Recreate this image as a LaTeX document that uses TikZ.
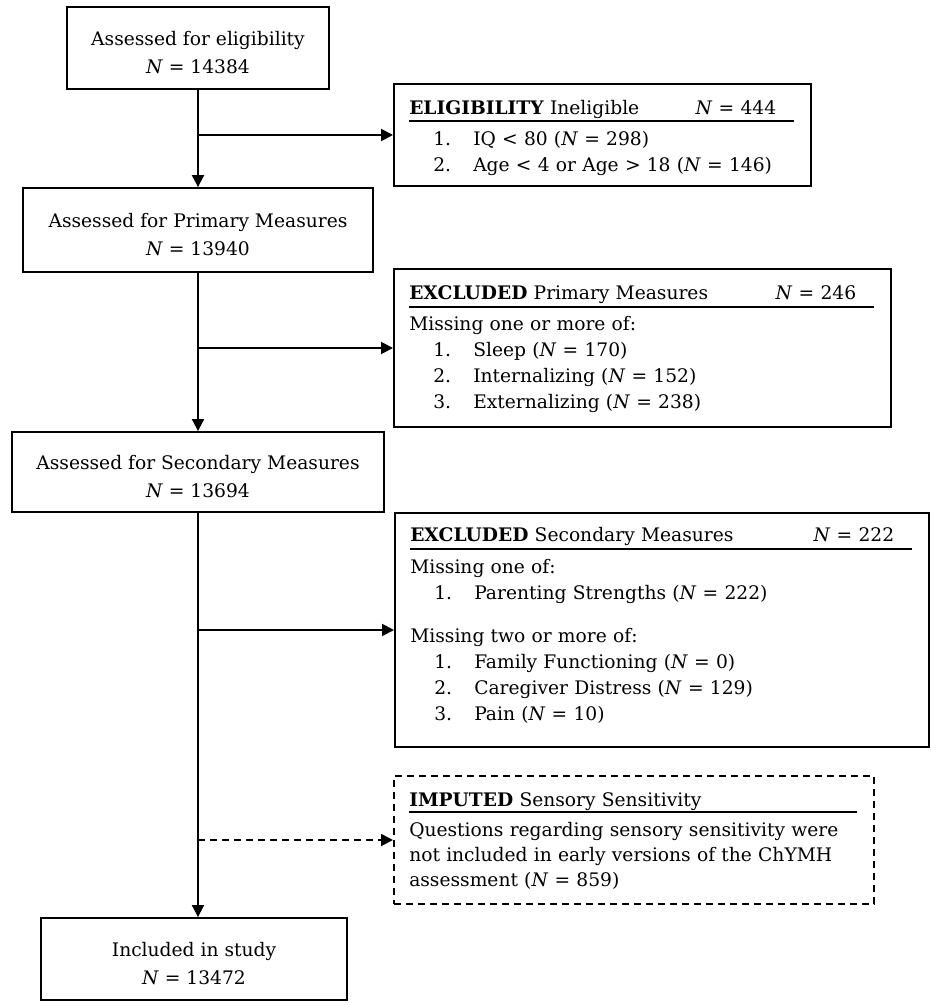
\documentclass[tikz,border=0pt]{standalone}
\usepackage{fontspec}
\setmainfont{DejaVu Serif}
\usetikzlibrary{arrows.meta}

\newcommand{\itm}[2]{\hspace*{18pt}\makebox[30pt][l]{#1}#2}
\newcommand{\nval}[1]{\textit{N} = #1}
\newcommand{\topgap}{\rule{0pt}{18pt}}

\tikzset{
  stagebox/.style={draw, line width=1.4pt, align=center, inner sep=2pt},
  sidebox/.style={draw, line width=1.4pt, anchor=west},
  sidetext/.style={anchor=north west, align=left, inner sep=0pt, xshift=12pt, yshift=-10pt},
  arr/.style={line width=1.4pt, -{Triangle[length=9pt,width=9pt]}}
}

\begin{document}
\begin{tikzpicture}[x=0.75pt, y=-0.75pt, font=\fontsize{14}{19.5}\selectfont]
        \useasboundingbox (0,0) rectangle (935,1005);

        \node[stagebox, minimum width=196.5pt, minimum height=61.5pt] (elig) at (198,48) {\topgap Assessed for eligibility\\[1.5pt]\nval{14384}};
        \node[stagebox, minimum width=262.5pt, minimum height=63pt] (primary) at (198,230) {\topgap Assessed for Primary Measures\\[1.5pt]\nval{13940}};
        \node[stagebox, minimum width=279pt, minimum height=60pt] (secondary) at (198,472) {\topgap Assessed for Secondary Measures\\[1.5pt]\nval{13694}};
        \node[stagebox, minimum width=229.5pt, minimum height=61.5pt] (included) at (194,959) {\topgap Included in study\\[1.5pt]\nval{13472}};

        \node[sidebox, minimum width=312.75pt, minimum height=76.5pt] (ineligible) at (393,135) {};
        \node[sidetext, text width=288.75pt] (ineligibletext) at (ineligible.north west) {%
          \strut\textbf{ELIGIBILITY} Ineligible\hfill\makebox[74pt][l]{\nval{444}}\\[-14pt]
          \rule{\hsize}{1.5pt}\\[-2pt]
          \itm{1.}{IQ < 80 (\nval{298})}\\
          \itm{2.}{Age < 4 or Age > 18 (\nval{146})}};

        \node[sidebox, minimum width=372.75pt, minimum height=118.5pt] (exclprimary) at (393,348) {};
        \node[sidetext, text width=348.75pt] (exclprimarytext) at (exclprimary.north west) {%
          \strut\textbf{EXCLUDED} Primary Measures\hfill\makebox[74pt][l]{\nval{246}}\\[-13.5pt]
          \rule{\hsize}{1.5pt}\\[-2.25pt]
          Missing one or more of:\\
          \itm{1.}{Sleep (\nval{170})}\\
          \itm{2.}{Internalizing (\nval{152})}\\
          \itm{3.}{Externalizing (\nval{238})}};

        \node[sidebox, minimum width=400.5pt, minimum height=175.5pt] (exclsecondary) at (394,630) {};
        \node[sidetext, text width=376.5pt, yshift=1.5pt] (exclsecondarytext) at (exclsecondary.north west) {%
          \strut\textbf{EXCLUDED} Secondary Measures\hfill\makebox[74pt][l]{\nval{222}}\\[-13.5pt]
          \rule{\hsize}{1.5pt}\\[-1.5pt]
          Missing one of:\\
          \itm{1.}{Parenting Strengths (\nval{222})}\\[12.75pt]
          Missing two or more of:\\
          \itm{1.}{Family Functioning (\nval{0})}\\
          \itm{2.}{Caregiver Distress (\nval{129})}\\
          \itm{3.}{Pain (\nval{10})}};

        \node[sidebox, dash pattern=on 5.25pt off 3.75pt, minimum width=360pt, minimum height=96pt] (imputed) at (393,840) {};
        \node[sidetext, text width=336pt] (imputedtext) at (imputed.north west) {%
          \strut\textbf{IMPUTED} Sensory Sensitivity\\[-15pt]
          \rule{\hsize}{1.5pt}\\[-1.5pt]
          Questions regarding sensory sensitivity were\\[-0.75pt]
          not included in early versions of the ChYMH\\[-0.75pt]
          assessment (\nval{859})};

        \draw[arr] (elig.south) -- (elig.south |- primary.north);
        \draw[arr] (primary.south) -- (primary.south |- secondary.north);
        \draw[arr] (secondary.south) -- (secondary.south |- included.north);

        \draw[arr] (elig.south |- ineligible.west) -- (ineligible.west);
        \draw[arr] (primary.south |- exclprimary.west) -- (exclprimary.west);
        \draw[arr] (secondary.south |- exclsecondary.west) -- (exclsecondary.west);
        \draw[arr, dash pattern=on 5.25pt off 3.75pt] (secondary.south |- imputed.west) -- (imputed.west);
    \end{tikzpicture}
\end{document}
